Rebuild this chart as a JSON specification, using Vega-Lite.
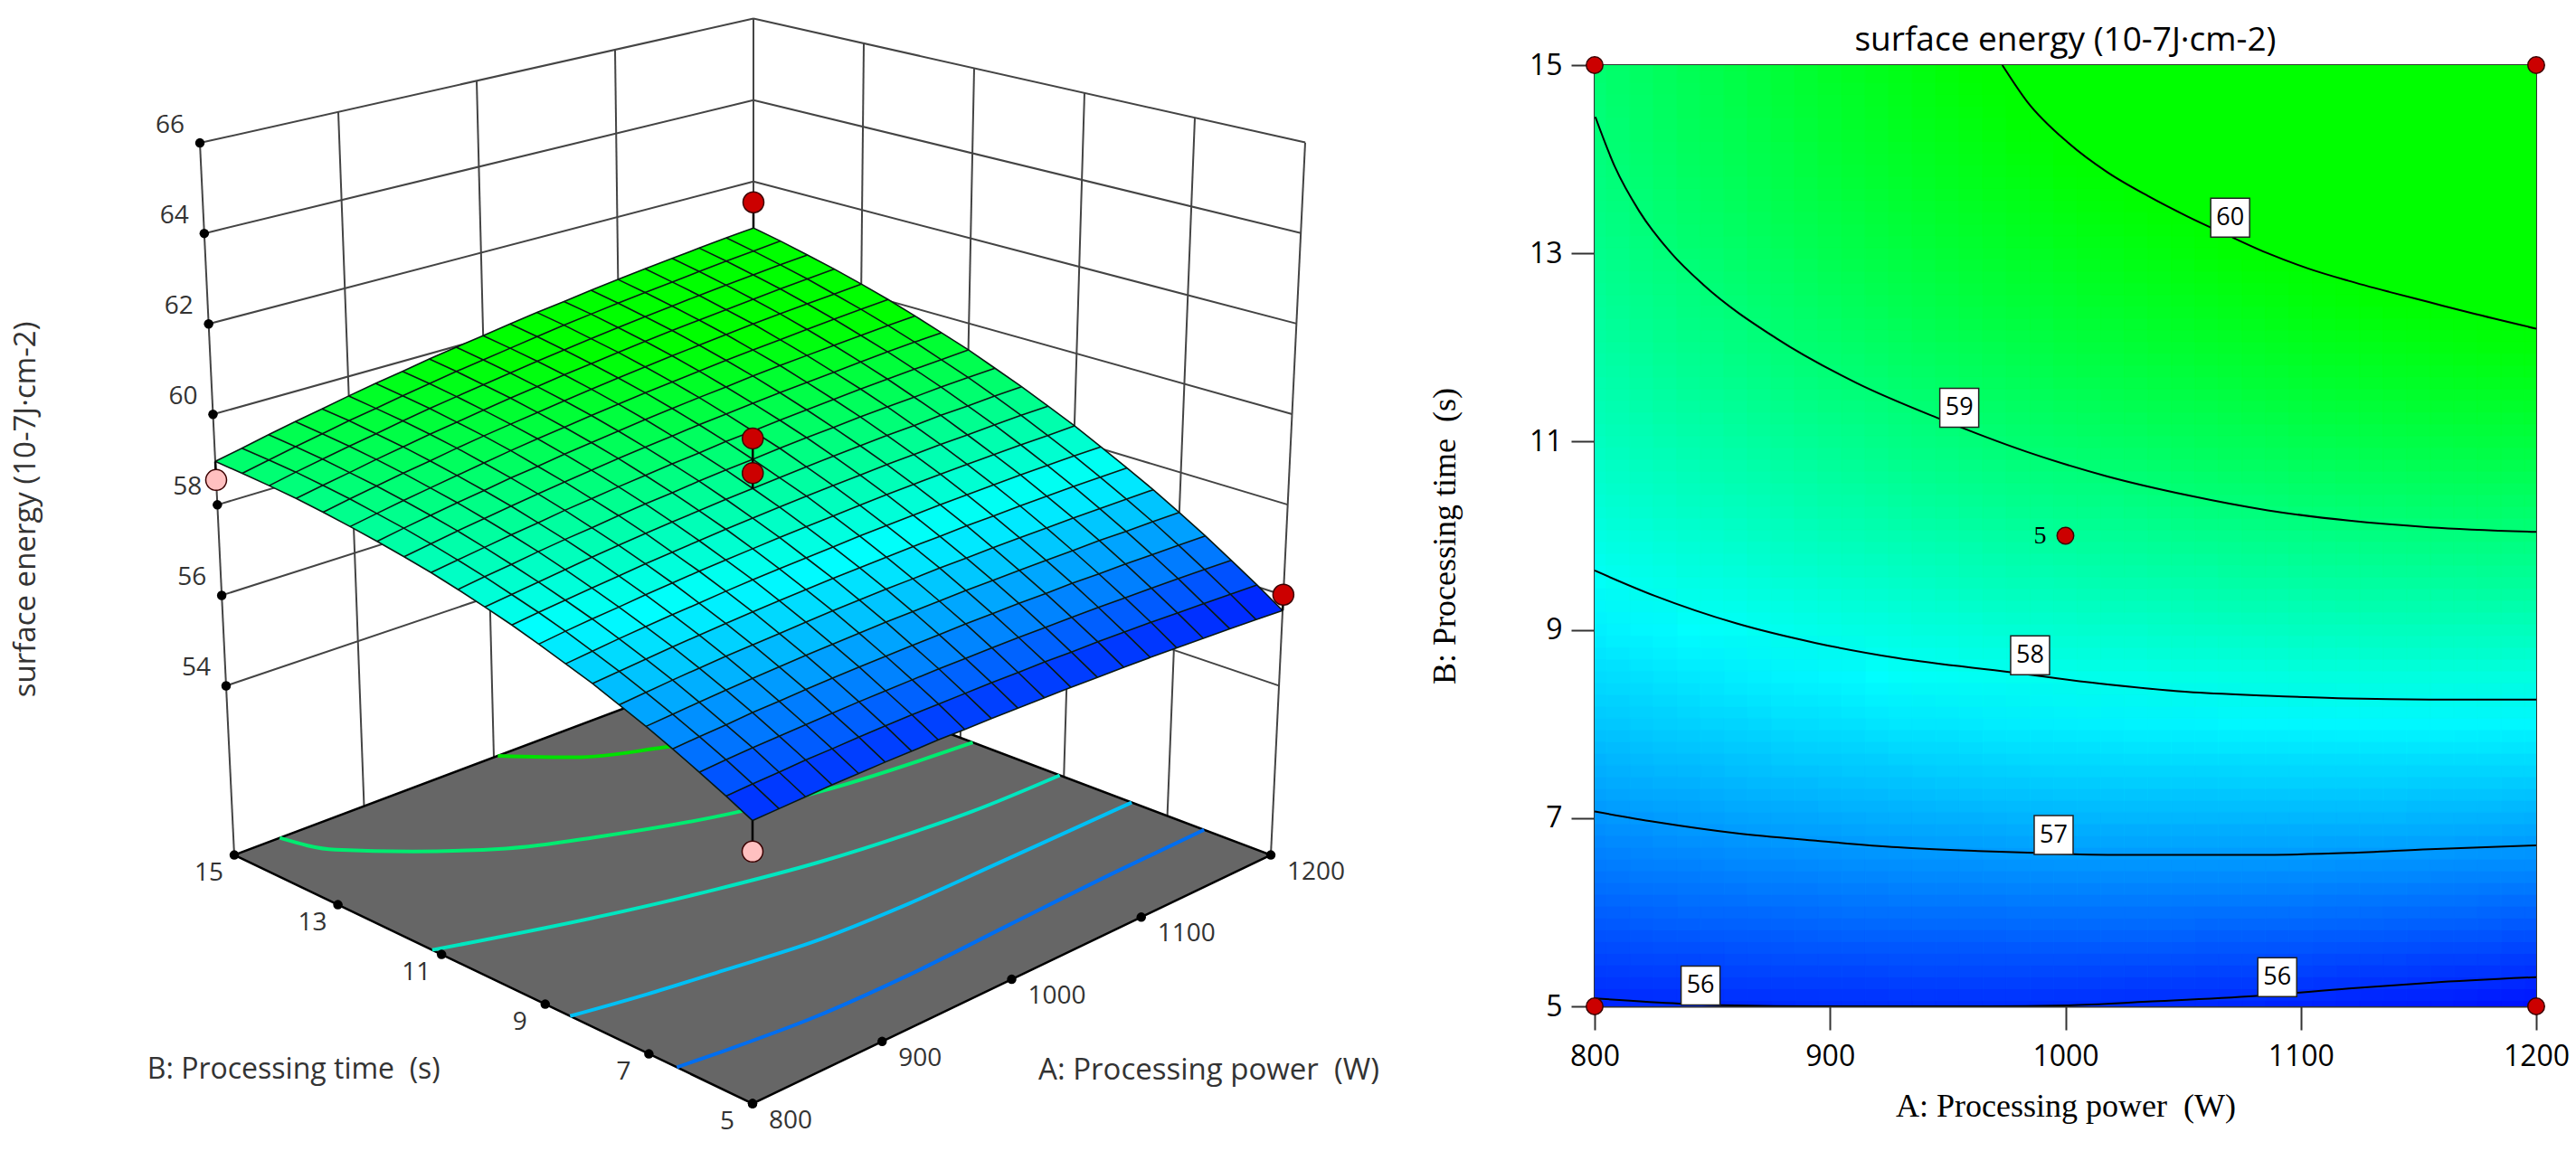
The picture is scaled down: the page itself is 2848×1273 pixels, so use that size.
{"$schema":"https://vega.github.io/schema/vega-lite/v6.json","padding":{"left":0,"top":16,"right":0,"bottom":0},"background":"white","spacing":0,"config":{"view":{"stroke":null},"concat":{"spacing":0}},
"datasets":{
"surface":[
{"A":800,"B":5,"z":55.94},{"A":820,"B":5,"z":55.96},{"A":840,"B":5,"z":55.98},{"A":860,"B":5,"z":56.0},{"A":880,"B":5,"z":56.01},{"A":900,"B":5,"z":56.02},{"A":920,"B":5,"z":56.02},{"A":940,"B":5,"z":56.03},{"A":960,"B":5,"z":56.02},{"A":980,"B":5,"z":56.02},{"A":1000,"B":5,"z":56.01},{"A":1020,"B":5,"z":56.0},{"A":1040,"B":5,"z":55.99},{"A":1060,"B":5,"z":55.97},{"A":1080,"B":5,"z":55.95},{"A":1100,"B":5,"z":55.93},{"A":1120,"B":5,"z":55.9},{"A":1140,"B":5,"z":55.87},{"A":1160,"B":5,"z":55.84},{"A":1180,"B":5,"z":55.8},{"A":1200,"B":5,"z":55.76},
{"A":800,"B":5.5,"z":56.21},{"A":820,"B":5.5,"z":56.24},{"A":840,"B":5.5,"z":56.26},{"A":860,"B":5.5,"z":56.29},{"A":880,"B":5.5,"z":56.3},{"A":900,"B":5.5,"z":56.32},{"A":920,"B":5.5,"z":56.33},{"A":940,"B":5.5,"z":56.34},{"A":960,"B":5.5,"z":56.34},{"A":980,"B":5.5,"z":56.34},{"A":1000,"B":5.5,"z":56.34},{"A":1020,"B":5.5,"z":56.33},{"A":1040,"B":5.5,"z":56.33},{"A":1060,"B":5.5,"z":56.31},{"A":1080,"B":5.5,"z":56.3},{"A":1100,"B":5.5,"z":56.28},{"A":1120,"B":5.5,"z":56.26},{"A":1140,"B":5.5,"z":56.23},{"A":1160,"B":5.5,"z":56.2},{"A":1180,"B":5.5,"z":56.17},{"A":1200,"B":5.5,"z":56.14},
{"A":800,"B":6,"z":56.47},{"A":820,"B":6,"z":56.51},{"A":840,"B":6,"z":56.54},{"A":860,"B":6,"z":56.56},{"A":880,"B":6,"z":56.58},{"A":900,"B":6,"z":56.6},{"A":920,"B":6,"z":56.62},{"A":940,"B":6,"z":56.63},{"A":960,"B":6,"z":56.64},{"A":980,"B":6,"z":56.65},{"A":1000,"B":6,"z":56.65},{"A":1020,"B":6,"z":56.65},{"A":1040,"B":6,"z":56.65},{"A":1060,"B":6,"z":56.64},{"A":1080,"B":6,"z":56.63},{"A":1100,"B":6,"z":56.62},{"A":1120,"B":6,"z":56.6},{"A":1140,"B":6,"z":56.58},{"A":1160,"B":6,"z":56.56},{"A":1180,"B":6,"z":56.53},{"A":1200,"B":6,"z":56.5},
{"A":800,"B":6.5,"z":56.72},{"A":820,"B":6.5,"z":56.76},{"A":840,"B":6.5,"z":56.79},{"A":860,"B":6.5,"z":56.83},{"A":880,"B":6.5,"z":56.85},{"A":900,"B":6.5,"z":56.88},{"A":920,"B":6.5,"z":56.9},{"A":940,"B":6.5,"z":56.92},{"A":960,"B":6.5,"z":56.93},{"A":980,"B":6.5,"z":56.94},{"A":1000,"B":6.5,"z":56.95},{"A":1020,"B":6.5,"z":56.96},{"A":1040,"B":6.5,"z":56.96},{"A":1060,"B":6.5,"z":56.96},{"A":1080,"B":6.5,"z":56.95},{"A":1100,"B":6.5,"z":56.95},{"A":1120,"B":6.5,"z":56.93},{"A":1140,"B":6.5,"z":56.92},{"A":1160,"B":6.5,"z":56.9},{"A":1180,"B":6.5,"z":56.88},{"A":1200,"B":6.5,"z":56.86},
{"A":800,"B":7,"z":56.96},{"A":820,"B":7,"z":57.0},{"A":840,"B":7,"z":57.04},{"A":860,"B":7,"z":57.08},{"A":880,"B":7,"z":57.11},{"A":900,"B":7,"z":57.14},{"A":920,"B":7,"z":57.17},{"A":940,"B":7,"z":57.19},{"A":960,"B":7,"z":57.21},{"A":980,"B":7,"z":57.23},{"A":1000,"B":7,"z":57.24},{"A":1020,"B":7,"z":57.25},{"A":1040,"B":7,"z":57.26},{"A":1060,"B":7,"z":57.26},{"A":1080,"B":7,"z":57.26},{"A":1100,"B":7,"z":57.26},{"A":1120,"B":7,"z":57.25},{"A":1140,"B":7,"z":57.25},{"A":1160,"B":7,"z":57.23},{"A":1180,"B":7,"z":57.22},{"A":1200,"B":7,"z":57.2},
{"A":800,"B":7.5,"z":57.18},{"A":820,"B":7.5,"z":57.23},{"A":840,"B":7.5,"z":57.28},{"A":860,"B":7.5,"z":57.32},{"A":880,"B":7.5,"z":57.36},{"A":900,"B":7.5,"z":57.39},{"A":920,"B":7.5,"z":57.42},{"A":940,"B":7.5,"z":57.45},{"A":960,"B":7.5,"z":57.48},{"A":980,"B":7.5,"z":57.5},{"A":1000,"B":7.5,"z":57.52},{"A":1020,"B":7.5,"z":57.53},{"A":1040,"B":7.5,"z":57.55},{"A":1060,"B":7.5,"z":57.55},{"A":1080,"B":7.5,"z":57.56},{"A":1100,"B":7.5,"z":57.56},{"A":1120,"B":7.5,"z":57.56},{"A":1140,"B":7.5,"z":57.56},{"A":1160,"B":7.5,"z":57.55},{"A":1180,"B":7.5,"z":57.54},{"A":1200,"B":7.5,"z":57.53},
{"A":800,"B":8,"z":57.4},{"A":820,"B":8,"z":57.45},{"A":840,"B":8,"z":57.5},{"A":860,"B":8,"z":57.55},{"A":880,"B":8,"z":57.59},{"A":900,"B":8,"z":57.63},{"A":920,"B":8,"z":57.67},{"A":940,"B":8,"z":57.7},{"A":960,"B":8,"z":57.73},{"A":980,"B":8,"z":57.76},{"A":1000,"B":8,"z":57.78},{"A":1020,"B":8,"z":57.8},{"A":1040,"B":8,"z":57.82},{"A":1060,"B":8,"z":57.83},{"A":1080,"B":8,"z":57.85},{"A":1100,"B":8,"z":57.85},{"A":1120,"B":8,"z":57.86},{"A":1140,"B":8,"z":57.86},{"A":1160,"B":8,"z":57.86},{"A":1180,"B":8,"z":57.85},{"A":1200,"B":8,"z":57.84},
{"A":800,"B":8.5,"z":57.59},{"A":820,"B":8.5,"z":57.65},{"A":840,"B":8.5,"z":57.71},{"A":860,"B":8.5,"z":57.76},{"A":880,"B":8.5,"z":57.81},{"A":900,"B":8.5,"z":57.85},{"A":920,"B":8.5,"z":57.9},{"A":940,"B":8.5,"z":57.94},{"A":960,"B":8.5,"z":57.97},{"A":980,"B":8.5,"z":58.0},{"A":1000,"B":8.5,"z":58.03},{"A":1020,"B":8.5,"z":58.06},{"A":1040,"B":8.5,"z":58.08},{"A":1060,"B":8.5,"z":58.1},{"A":1080,"B":8.5,"z":58.12},{"A":1100,"B":8.5,"z":58.13},{"A":1120,"B":8.5,"z":58.14},{"A":1140,"B":8.5,"z":58.15},{"A":1160,"B":8.5,"z":58.15},{"A":1180,"B":8.5,"z":58.15},{"A":1200,"B":8.5,"z":58.14},
{"A":800,"B":9,"z":57.78},{"A":820,"B":9,"z":57.85},{"A":840,"B":9,"z":57.91},{"A":860,"B":9,"z":57.96},{"A":880,"B":9,"z":58.02},{"A":900,"B":9,"z":58.07},{"A":920,"B":9,"z":58.12},{"A":940,"B":9,"z":58.16},{"A":960,"B":9,"z":58.2},{"A":980,"B":9,"z":58.24},{"A":1000,"B":9,"z":58.27},{"A":1020,"B":9,"z":58.3},{"A":1040,"B":9,"z":58.33},{"A":1060,"B":9,"z":58.36},{"A":1080,"B":9,"z":58.38},{"A":1100,"B":9,"z":58.4},{"A":1120,"B":9,"z":58.41},{"A":1140,"B":9,"z":58.42},{"A":1160,"B":9,"z":58.43},{"A":1180,"B":9,"z":58.43},{"A":1200,"B":9,"z":58.44},
{"A":800,"B":9.5,"z":57.96},{"A":820,"B":9.5,"z":58.03},{"A":840,"B":9.5,"z":58.09},{"A":860,"B":9.5,"z":58.15},{"A":880,"B":9.5,"z":58.21},{"A":900,"B":9.5,"z":58.27},{"A":920,"B":9.5,"z":58.32},{"A":940,"B":9.5,"z":58.37},{"A":960,"B":9.5,"z":58.42},{"A":980,"B":9.5,"z":58.46},{"A":1000,"B":9.5,"z":58.5},{"A":1020,"B":9.5,"z":58.54},{"A":1040,"B":9.5,"z":58.57},{"A":1060,"B":9.5,"z":58.6},{"A":1080,"B":9.5,"z":58.63},{"A":1100,"B":9.5,"z":58.65},{"A":1120,"B":9.5,"z":58.67},{"A":1140,"B":9.5,"z":58.68},{"A":1160,"B":9.5,"z":58.7},{"A":1180,"B":9.5,"z":58.71},{"A":1200,"B":9.5,"z":58.71},
{"A":800,"B":10,"z":58.12},{"A":820,"B":10,"z":58.19},{"A":840,"B":10,"z":58.26},{"A":860,"B":10,"z":58.33},{"A":880,"B":10,"z":58.4},{"A":900,"B":10,"z":58.46},{"A":920,"B":10,"z":58.52},{"A":940,"B":10,"z":58.57},{"A":960,"B":10,"z":58.62},{"A":980,"B":10,"z":58.67},{"A":1000,"B":10,"z":58.71},{"A":1020,"B":10,"z":58.75},{"A":1040,"B":10,"z":58.79},{"A":1060,"B":10,"z":58.83},{"A":1080,"B":10,"z":58.86},{"A":1100,"B":10,"z":58.89},{"A":1120,"B":10,"z":58.91},{"A":1140,"B":10,"z":58.94},{"A":1160,"B":10,"z":58.95},{"A":1180,"B":10,"z":58.97},{"A":1200,"B":10,"z":58.98},
{"A":800,"B":10.5,"z":58.27},{"A":820,"B":10.5,"z":58.35},{"A":840,"B":10.5,"z":58.42},{"A":860,"B":10.5,"z":58.5},{"A":880,"B":10.5,"z":58.57},{"A":900,"B":10.5,"z":58.63},{"A":920,"B":10.5,"z":58.7},{"A":940,"B":10.5,"z":58.76},{"A":960,"B":10.5,"z":58.81},{"A":980,"B":10.5,"z":58.87},{"A":1000,"B":10.5,"z":58.92},{"A":1020,"B":10.5,"z":58.96},{"A":1040,"B":10.5,"z":59.01},{"A":1060,"B":10.5,"z":59.05},{"A":1080,"B":10.5,"z":59.08},{"A":1100,"B":10.5,"z":59.12},{"A":1120,"B":10.5,"z":59.15},{"A":1140,"B":10.5,"z":59.17},{"A":1160,"B":10.5,"z":59.2},{"A":1180,"B":10.5,"z":59.22},{"A":1200,"B":10.5,"z":59.23},
{"A":800,"B":11,"z":58.41},{"A":820,"B":11,"z":58.49},{"A":840,"B":11,"z":58.57},{"A":860,"B":11,"z":58.65},{"A":880,"B":11,"z":58.72},{"A":900,"B":11,"z":58.8},{"A":920,"B":11,"z":58.86},{"A":940,"B":11,"z":58.93},{"A":960,"B":11,"z":58.99},{"A":980,"B":11,"z":59.05},{"A":1000,"B":11,"z":59.1},{"A":1020,"B":11,"z":59.16},{"A":1040,"B":11,"z":59.2},{"A":1060,"B":11,"z":59.25},{"A":1080,"B":11,"z":59.29},{"A":1100,"B":11,"z":59.33},{"A":1120,"B":11,"z":59.37},{"A":1140,"B":11,"z":59.4},{"A":1160,"B":11,"z":59.43},{"A":1180,"B":11,"z":59.45},{"A":1200,"B":11,"z":59.48},
{"A":800,"B":11.5,"z":58.53},{"A":820,"B":11.5,"z":58.62},{"A":840,"B":11.5,"z":58.71},{"A":860,"B":11.5,"z":58.79},{"A":880,"B":11.5,"z":58.87},{"A":900,"B":11.5,"z":58.95},{"A":920,"B":11.5,"z":59.02},{"A":940,"B":11.5,"z":59.09},{"A":960,"B":11.5,"z":59.16},{"A":980,"B":11.5,"z":59.22},{"A":1000,"B":11.5,"z":59.28},{"A":1020,"B":11.5,"z":59.34},{"A":1040,"B":11.5,"z":59.39},{"A":1060,"B":11.5,"z":59.44},{"A":1080,"B":11.5,"z":59.49},{"A":1100,"B":11.5,"z":59.53},{"A":1120,"B":11.5,"z":59.57},{"A":1140,"B":11.5,"z":59.61},{"A":1160,"B":11.5,"z":59.65},{"A":1180,"B":11.5,"z":59.68},{"A":1200,"B":11.5,"z":59.7},
{"A":800,"B":12,"z":58.64},{"A":820,"B":12,"z":58.74},{"A":840,"B":12,"z":58.83},{"A":860,"B":12,"z":58.92},{"A":880,"B":12,"z":59.0},{"A":900,"B":12,"z":59.09},{"A":920,"B":12,"z":59.16},{"A":940,"B":12,"z":59.24},{"A":960,"B":12,"z":59.31},{"A":980,"B":12,"z":59.38},{"A":1000,"B":12,"z":59.45},{"A":1020,"B":12,"z":59.51},{"A":1040,"B":12,"z":59.57},{"A":1060,"B":12,"z":59.62},{"A":1080,"B":12,"z":59.68},{"A":1100,"B":12,"z":59.73},{"A":1120,"B":12,"z":59.77},{"A":1140,"B":12,"z":59.81},{"A":1160,"B":12,"z":59.85},{"A":1180,"B":12,"z":59.89},{"A":1200,"B":12,"z":59.92},
{"A":800,"B":12.5,"z":58.74},{"A":820,"B":12.5,"z":58.84},{"A":840,"B":12.5,"z":58.94},{"A":860,"B":12.5,"z":59.03},{"A":880,"B":12.5,"z":59.12},{"A":900,"B":12.5,"z":59.21},{"A":920,"B":12.5,"z":59.3},{"A":940,"B":12.5,"z":59.38},{"A":960,"B":12.5,"z":59.45},{"A":980,"B":12.5,"z":59.53},{"A":1000,"B":12.5,"z":59.6},{"A":1020,"B":12.5,"z":59.67},{"A":1040,"B":12.5,"z":59.73},{"A":1060,"B":12.5,"z":59.79},{"A":1080,"B":12.5,"z":59.85},{"A":1100,"B":12.5,"z":59.9},{"A":1120,"B":12.5,"z":59.95},{"A":1140,"B":12.5,"z":60.0},{"A":1160,"B":12.5,"z":60.05},{"A":1180,"B":12.5,"z":60.09},{"A":1200,"B":12.5,"z":60.13},
{"A":800,"B":13,"z":58.83},{"A":820,"B":13,"z":58.94},{"A":840,"B":13,"z":59.04},{"A":860,"B":13,"z":59.14},{"A":880,"B":13,"z":59.23},{"A":900,"B":13,"z":59.33},{"A":920,"B":13,"z":59.42},{"A":940,"B":13,"z":59.5},{"A":960,"B":13,"z":59.58},{"A":980,"B":13,"z":59.66},{"A":1000,"B":13,"z":59.74},{"A":1020,"B":13,"z":59.81},{"A":1040,"B":13,"z":59.88},{"A":1060,"B":13,"z":59.95},{"A":1080,"B":13,"z":60.01},{"A":1100,"B":13,"z":60.07},{"A":1120,"B":13,"z":60.13},{"A":1140,"B":13,"z":60.18},{"A":1160,"B":13,"z":60.23},{"A":1180,"B":13,"z":60.27},{"A":1200,"B":13,"z":60.32},
{"A":800,"B":13.5,"z":58.91},{"A":820,"B":13.5,"z":59.02},{"A":840,"B":13.5,"z":59.12},{"A":860,"B":13.5,"z":59.23},{"A":880,"B":13.5,"z":59.33},{"A":900,"B":13.5,"z":59.43},{"A":920,"B":13.5,"z":59.52},{"A":940,"B":13.5,"z":59.61},{"A":960,"B":13.5,"z":59.7},{"A":980,"B":13.5,"z":59.78},{"A":1000,"B":13.5,"z":59.87},{"A":1020,"B":13.5,"z":59.94},{"A":1040,"B":13.5,"z":60.02},{"A":1060,"B":13.5,"z":60.09},{"A":1080,"B":13.5,"z":60.16},{"A":1100,"B":13.5,"z":60.22},{"A":1120,"B":13.5,"z":60.28},{"A":1140,"B":13.5,"z":60.34},{"A":1160,"B":13.5,"z":60.4},{"A":1180,"B":13.5,"z":60.45},{"A":1200,"B":13.5,"z":60.5},
{"A":800,"B":14,"z":58.97},{"A":820,"B":14,"z":59.09},{"A":840,"B":14,"z":59.2},{"A":860,"B":14,"z":59.31},{"A":880,"B":14,"z":59.41},{"A":900,"B":14,"z":59.52},{"A":920,"B":14,"z":59.62},{"A":940,"B":14,"z":59.71},{"A":960,"B":14,"z":59.8},{"A":980,"B":14,"z":59.89},{"A":1000,"B":14,"z":59.98},{"A":1020,"B":14,"z":60.06},{"A":1040,"B":14,"z":60.14},{"A":1060,"B":14,"z":60.22},{"A":1080,"B":14,"z":60.29},{"A":1100,"B":14,"z":60.36},{"A":1120,"B":14,"z":60.43},{"A":1140,"B":14,"z":60.49},{"A":1160,"B":14,"z":60.55},{"A":1180,"B":14,"z":60.61},{"A":1200,"B":14,"z":60.66},
{"A":800,"B":14.5,"z":59.02},{"A":820,"B":14.5,"z":59.14},{"A":840,"B":14.5,"z":59.26},{"A":860,"B":14.5,"z":59.37},{"A":880,"B":14.5,"z":59.49},{"A":900,"B":14.5,"z":59.59},{"A":920,"B":14.5,"z":59.7},{"A":940,"B":14.5,"z":59.8},{"A":960,"B":14.5,"z":59.9},{"A":980,"B":14.5,"z":59.99},{"A":1000,"B":14.5,"z":60.08},{"A":1020,"B":14.5,"z":60.17},{"A":1040,"B":14.5,"z":60.26},{"A":1060,"B":14.5,"z":60.34},{"A":1080,"B":14.5,"z":60.42},{"A":1100,"B":14.5,"z":60.49},{"A":1120,"B":14.5,"z":60.56},{"A":1140,"B":14.5,"z":60.63},{"A":1160,"B":14.5,"z":60.7},{"A":1180,"B":14.5,"z":60.76},{"A":1200,"B":14.5,"z":60.82},
{"A":800,"B":15,"z":59.06},{"A":820,"B":15,"z":59.18},{"A":840,"B":15,"z":59.31},{"A":860,"B":15,"z":59.43},{"A":880,"B":15,"z":59.54},{"A":900,"B":15,"z":59.66},{"A":920,"B":15,"z":59.77},{"A":940,"B":15,"z":59.87},{"A":960,"B":15,"z":59.98},{"A":980,"B":15,"z":60.08},{"A":1000,"B":15,"z":60.17},{"A":1020,"B":15,"z":60.27},{"A":1040,"B":15,"z":60.36},{"A":1060,"B":15,"z":60.44},{"A":1080,"B":15,"z":60.53},{"A":1100,"B":15,"z":60.61},{"A":1120,"B":15,"z":60.69},{"A":1140,"B":15,"z":60.76},{"A":1160,"B":15,"z":60.83},{"A":1180,"B":15,"z":60.9},{"A":1200,"B":15,"z":60.96}
],
"scene":[
{"k":"w","id":1,"A":800,"B":15,"z":54},{"k":"w","id":1,"A":1200,"B":15,"z":54},{"k":"w","id":2,"A":800,"B":15,"z":56},{"k":"w","id":2,"A":1200,"B":15,"z":56},{"k":"w","id":3,"A":800,"B":15,"z":58},{"k":"w","id":3,"A":1200,"B":15,"z":58},{"k":"w","id":4,"A":800,"B":15,"z":60},{"k":"w","id":4,"A":1200,"B":15,"z":60},{"k":"w","id":5,"A":800,"B":15,"z":62},{"k":"w","id":5,"A":1200,"B":15,"z":62},{"k":"w","id":6,"A":800,"B":15,"z":64},{"k":"w","id":6,"A":1200,"B":15,"z":64},{"k":"w","id":7,"A":800,"B":15,"z":66},{"k":"w","id":7,"A":1200,"B":15,"z":66},
{"k":"w","id":8,"A":1200,"B":15,"z":54},{"k":"w","id":8,"A":1200,"B":5,"z":54},{"k":"w","id":9,"A":1200,"B":15,"z":56},{"k":"w","id":9,"A":1200,"B":5,"z":56},{"k":"w","id":10,"A":1200,"B":15,"z":58},{"k":"w","id":10,"A":1200,"B":5,"z":58},{"k":"w","id":11,"A":1200,"B":15,"z":60},{"k":"w","id":11,"A":1200,"B":5,"z":60},{"k":"w","id":12,"A":1200,"B":15,"z":62},{"k":"w","id":12,"A":1200,"B":5,"z":62},{"k":"w","id":13,"A":1200,"B":15,"z":64},{"k":"w","id":13,"A":1200,"B":5,"z":64},{"k":"w","id":14,"A":1200,"B":15,"z":66},{"k":"w","id":14,"A":1200,"B":5,"z":66},
{"k":"w","id":15,"A":800,"B":15,"z":50.26},{"k":"w","id":15,"A":800,"B":15,"z":66},{"k":"w","id":16,"A":900,"B":15,"z":50.26},{"k":"w","id":16,"A":900,"B":15,"z":66},{"k":"w","id":17,"A":1000,"B":15,"z":50.26},{"k":"w","id":17,"A":1000,"B":15,"z":66},{"k":"w","id":18,"A":1100,"B":15,"z":50.26},{"k":"w","id":18,"A":1100,"B":15,"z":66},{"k":"w","id":19,"A":1200,"B":15,"z":50.26},{"k":"w","id":19,"A":1200,"B":15,"z":66},
{"k":"w","id":20,"A":1200,"B":13,"z":50.26},{"k":"w","id":20,"A":1200,"B":13,"z":66},{"k":"w","id":21,"A":1200,"B":11,"z":50.26},{"k":"w","id":21,"A":1200,"B":11,"z":66},{"k":"w","id":22,"A":1200,"B":9,"z":50.26},{"k":"w","id":22,"A":1200,"B":9,"z":66},{"k":"w","id":23,"A":1200,"B":7,"z":50.26},{"k":"w","id":23,"A":1200,"B":7,"z":66},{"k":"w","id":24,"A":1200,"B":5,"z":50.26},{"k":"w","id":24,"A":1200,"B":5,"z":66},
{"k":"f","o":0,"A":800,"B":5,"z":50.26},{"k":"f","o":1,"A":1200,"B":5,"z":50.26},{"k":"f","o":2,"A":1200,"B":15,"z":50.26},{"k":"f","o":3,"A":800,"B":15,"z":50.26},{"k":"f","o":4,"A":800,"B":5,"z":50.26},
{"k":"c","level":"56","A":800,"B":6.46,"z":50.26},{"k":"c","level":"56","A":831,"B":6.35,"z":50.26},{"k":"c","level":"56","A":895,"B":6.17,"z":50.26},{"k":"c","level":"56","A":965,"B":6.13,"z":50.26},{"k":"c","level":"56","A":1047,"B":6.2,"z":50.26},{"k":"c","level":"56","A":1132,"B":6.27,"z":50.26},{"k":"c","level":"56","A":1200,"B":6.29,"z":50.26},
{"k":"c","level":"57","A":800,"B":8.52,"z":50.26},{"k":"c","level":"57","A":849,"B":8.26,"z":50.26},{"k":"c","level":"57","A":899,"B":8.04,"z":50.26},{"k":"c","level":"57","A":960,"B":7.78,"z":50.26},{"k":"c","level":"57","A":1027,"B":7.68,"z":50.26},{"k":"c","level":"57","A":1099,"B":7.68,"z":50.26},{"k":"c","level":"57","A":1200,"B":7.69,"z":50.26},
{"k":"c","level":"58","A":800,"B":11.18,"z":50.26},{"k":"c","level":"58","A":897,"B":10.38,"z":50.26},{"k":"c","level":"58","A":967,"B":9.88,"z":50.26},{"k":"c","level":"58","A":1030,"B":9.5,"z":50.26},{"k":"c","level":"58","A":1092,"B":9.25,"z":50.26},{"k":"c","level":"58","A":1135,"B":9.13,"z":50.26},{"k":"c","level":"58","A":1200,"B":9.08,"z":50.26},
{"k":"c","level":"59","A":835,"B":15,"z":50.26},{"k":"c","level":"59","A":848,"B":14.25,"z":50.26},{"k":"c","level":"59","A":879,"B":13.53,"z":50.26},{"k":"c","level":"59","A":920,"B":12.76,"z":50.26},{"k":"c","level":"59","A":968,"B":12.18,"z":50.26},{"k":"c","level":"59","A":1045,"B":11.44,"z":50.26},{"k":"c","level":"59","A":1103,"B":11.08,"z":50.26},{"k":"c","level":"59","A":1200,"B":10.76,"z":50.26},
{"k":"c","level":"60","A":1003,"B":15,"z":50.26},{"k":"c","level":"60","A":1033,"B":14.26,"z":50.26},{"k":"c","level":"60","A":1078,"B":13.67,"z":50.26},{"k":"c","level":"60","A":1140,"B":13,"z":50.26},{"k":"c","level":"60","A":1200,"B":12.6,"z":50.26},
{"k":"s","id":"a","A":1200,"B":15,"z":60.86},{"k":"s","id":"a","A":1200,"B":15,"z":61.49},{"k":"s","id":"b","A":800,"B":5,"z":55.84},{"k":"s","id":"b","A":800,"B":5,"z":55.23},{"k":"s","id":"c","A":800,"B":15,"z":58.96},{"k":"s","id":"c","A":800,"B":15,"z":58.55},{"k":"s","id":"d","A":1200,"B":5,"z":55.66},{"k":"s","id":"d","A":1200,"B":5,"z":56.01},{"k":"s","id":"e","A":1000,"B":10,"z":58.61},{"k":"s","id":"e","A":1000,"B":10,"z":59.71},
{"k":"d","pos":"above","A":1200,"B":15,"z":61.49},{"k":"d","pos":"above","A":1000,"B":10,"z":59.71},{"k":"d","pos":"above","A":1000,"B":10,"z":58.95},{"k":"d","pos":"below","A":800,"B":15,"z":58.55},{"k":"d","pos":"below","A":800,"B":5,"z":55.23},{"k":"d","pos":"above","A":1200,"B":5,"z":56.01},
{"k":"tz","t":"54","A":800,"B":15,"z":54},{"k":"tz","t":"56","A":800,"B":15,"z":56},{"k":"tz","t":"58","A":800,"B":15,"z":58},{"k":"tz","t":"60","A":800,"B":15,"z":60},{"k":"tz","t":"62","A":800,"B":15,"z":62},{"k":"tz","t":"64","A":800,"B":15,"z":64},{"k":"tz","t":"66","A":800,"B":15,"z":66},
{"k":"tb","t":"5","A":800,"B":5,"z":50.26},{"k":"tb","t":"7","A":800,"B":7,"z":50.26},{"k":"tb","t":"9","A":800,"B":9,"z":50.26},{"k":"tb","t":"11","A":800,"B":11,"z":50.26},{"k":"tb","t":"13","A":800,"B":13,"z":50.26},{"k":"tb","t":"15","A":800,"B":15,"z":50.26},
{"k":"ta","t":"800","A":800,"B":5,"z":50.26},{"k":"ta","t":"900","A":900,"B":5,"z":50.26},{"k":"ta","t":"1000","A":1000,"B":5,"z":50.26},{"k":"ta","t":"1100","A":1100,"B":5,"z":50.26},{"k":"ta","t":"1200","A":1200,"B":5,"z":50.26},
{"k":"t1","t":"surface energy (10-7J·cm-2)","A":800,"B":15,"z":57.9},{"k":"t2","t":"B: Processing time \u00a0(s)","A":800,"B":9,"z":50.26},{"k":"t3","t":"A: Processing power \u00a0(W)","A":1000,"B":5,"z":50.26}
],
"contours":[
{"level":60,"A":973.2,"B":15},{"level":60,"A":983.8,"B":14.61},{"level":60,"A":1000.9,"B":14.18},{"level":60,"A":1017.9,"B":13.86},{"level":60,"A":1035,"B":13.61},{"level":60,"A":1052,"B":13.39},{"level":60,"A":1070,"B":13.18},{"level":60,"A":1086,"B":13.0},{"level":60,"A":1103,"B":12.84},{"level":60,"A":1120,"B":12.71},{"level":60,"A":1137.6,"B":12.59},{"level":60,"A":1154.7,"B":12.48},{"level":60,"A":1171.8,"B":12.37},{"level":60,"A":1200,"B":12.2},
{"level":59,"A":800.3,"B":14.45},{"level":59,"A":808.6,"B":13.92},{"level":59,"A":818.9,"B":13.45},{"level":59,"A":832.6,"B":13.0},{"level":59,"A":846,"B":12.67},{"level":59,"A":877,"B":12.1},{"level":59,"A":911.5,"B":11.62},{"level":59,"A":945.8,"B":11.25},{"level":59,"A":983.8,"B":10.89},{"level":59,"A":1017.9,"B":10.63},{"level":59,"A":1052,"B":10.43},{"level":59,"A":1086,"B":10.27},{"level":59,"A":1120.5,"B":10.16},{"level":59,"A":1154.7,"B":10.09},{"level":59,"A":1200,"B":10.04},
{"level":58,"A":800,"B":9.63},{"level":58,"A":825.7,"B":9.36},{"level":58,"A":860,"B":9.07},{"level":58,"A":894,"B":8.86},{"level":58,"A":928.6,"B":8.7},{"level":58,"A":976.7,"B":8.55},{"level":58,"A":1018,"B":8.42},{"level":58,"A":1052,"B":8.34},{"level":58,"A":1086,"B":8.3},{"level":58,"A":1120.5,"B":8.27},{"level":58,"A":1154.7,"B":8.26},{"level":58,"A":1200,"B":8.26},
{"level":57,"A":800,"B":7.07},{"level":57,"A":825.7,"B":6.96},{"level":57,"A":860,"B":6.84},{"level":57,"A":894,"B":6.76},{"level":57,"A":928.6,"B":6.69},{"level":57,"A":962.9,"B":6.65},{"level":57,"A":986.9,"B":6.63},{"level":57,"A":1018,"B":6.61},{"level":57,"A":1052,"B":6.61},{"level":57,"A":1086,"B":6.61},{"level":57,"A":1120.5,"B":6.63},{"level":57,"A":1154.7,"B":6.67},{"level":57,"A":1200,"B":6.71},
{"level":56,"A":800,"B":5.085},{"level":56,"A":836,"B":5.03},{"level":56,"A":860,"B":5.01},{"level":56,"A":894,"B":5.0},{"level":56,"A":966,"B":5},{"level":56,"A":1000,"B":5.01},{"level":56,"A":1035,"B":5.05},{"level":56,"A":1081,"B":5.11},{"level":56,"A":1120.5,"B":5.19},{"level":56,"A":1154.7,"B":5.25},{"level":56,"A":1200,"B":5.31}
],
"labels":[{"A":1070,"B":13.38,"t":"60"},{"A":954.9,"B":11.36,"t":"59"},{"A":985,"B":8.73,"t":"58"},{"A":995,"B":6.82,"t":"57"},{"A":1090,"B":5.31,"t":"56"},{"A":845,"B":5.22,"t":"56"}],
"runs":[{"A":800,"B":5},{"A":800,"B":15},{"A":1200,"B":5},{"A":1200,"B":15},{"A":1000,"B":10,"n":"5"}]
},
"hconcat":[
{"width":1578,"height":1201.6,"layer":[
{"data":{"name":"scene"},"transform":[{"calculate":"(datum.A-800)/400","as":"u"},{"calculate":"(datum.B-5)/10","as":"v"},{"calculate":"(datum.z-50.26)/15.74","as":"h"},{"calculate":"(1-datum.u)*(1-datum.v)*832+datum.u*(1-datum.v)*(1405+38*datum.h)+(1-datum.u)*datum.v*(259-38*datum.h)+datum.u*datum.v*833","as":"px"},{"calculate":"(1-datum.u)*(1-datum.v)*(1220-883*datum.h)+datum.u*(1-datum.v)*(945-788*datum.h)+(1-datum.u)*datum.v*(945-787.5*datum.h)+datum.u*datum.v*(729-709*datum.h)","as":"py"}],
"encoding":{"x":{"field":"px","type":"quantitative","scale":{"domain":[0,1578],"nice":false,"zero":false},"axis":null},"y":{"field":"py","type":"quantitative","scale":{"domain":[1273,71.4],"nice":false,"zero":false},"axis":null}},
"layer":[
{"transform":[{"filter":"datum.k=='w'"}],"mark":{"type":"line","stroke":"#444444","strokeWidth":2},"encoding":{"detail":{"field":"id"}}},
{"transform":[{"filter":"datum.k=='f'"}],"mark":{"type":"line","fill":"#666666","stroke":"#000000","strokeWidth":2.5},"encoding":{"order":{"field":"o","type":"quantitative"}}},
{"transform":[{"filter":"datum.k=='c'"}],"mark":{"type":"line","strokeWidth":4,"interpolate":"monotone"},"encoding":{"stroke":{"field":"level","type":"nominal","scale":{"domain":["56","57","58","59","60"],"range":["#006ef0","#00c0f5","#00e6c0","#00eb70","#00e000"]},"legend":null}}}
]},
{"data":{"name":"surface"},"transform":[{"calculate":"(datum.A-800)/400","as":"u"},{"calculate":"(datum.B-5)/10","as":"v"},{"calculate":"(datum.z-50.36)/15.74","as":"h"},{"calculate":"(1-datum.u)*(1-datum.v)*832+datum.u*(1-datum.v)*(1405+38*datum.h)+(1-datum.u)*datum.v*(259-38*datum.h)+datum.u*datum.v*833","as":"px"},{"calculate":"(1-datum.u)*(1-datum.v)*(1220-883*datum.h)+datum.u*(1-datum.v)*(945-788*datum.h)+(1-datum.u)*datum.v*(945-787.5*datum.h)+datum.u*datum.v*(729-709*datum.h)","as":"py"}],
"encoding":{"x":{"field":"px","type":"quantitative","scale":{"domain":[0,1578],"nice":false,"zero":false},"axis":null},"y":{"field":"py","type":"quantitative","scale":{"domain":[1273,71.4],"nice":false,"zero":false},"axis":null}},
"layer":[
{"transform":[{"calculate":"(datum.A-800)/20","as":"i"},{"calculate":"(datum.B-5)/0.5","as":"j"},{"calculate":"[datum.i,datum.i-1,datum.i-1,datum.i]","as":"qi"},{"calculate":"[datum.j,datum.j,datum.j-1,datum.j-1]","as":"qj"},{"calculate":"[0,1,2,3]","as":"o"},{"flatten":["qi","qj","o"]},{"filter":"datum.qi>=0&&datum.qi<20&&datum.qj>=0&&datum.qj<20"},{"calculate":"datum.qi+100*datum.qj","as":"q"},{"joinaggregate":[{"op":"mean","field":"z","as":"zm"}],"groupby":["q"]}],
"mark":{"type":"line","strokeOpacity":0},"encoding":{"detail":{"field":"q"},"order":{"field":"o","type":"quantitative"},"fill":{"field":"zm","type":"quantitative","scale":{"domain":[55.6,57.9,60],"range":["#0000ff","#00ffff","#00ff00"],"interpolate":"rgb","clamp":true},"legend":null}}},
{"mark":{"type":"line","stroke":"#0a1a14","strokeWidth":1.6},"encoding":{"detail":{"field":"A"},"order":{"field":"B","type":"quantitative"}}},
{"mark":{"type":"line","stroke":"#0a1a14","strokeWidth":1.6},"encoding":{"detail":{"field":"B"},"order":{"field":"A","type":"quantitative"}}}
]},
{"data":{"name":"scene"},"transform":[{"calculate":"(datum.A-800)/400","as":"u"},{"calculate":"(datum.B-5)/10","as":"v"},{"calculate":"(datum.z-50.26)/15.74","as":"h"},{"calculate":"(1-datum.u)*(1-datum.v)*832+datum.u*(1-datum.v)*(1405+38*datum.h)+(1-datum.u)*datum.v*(259-38*datum.h)+datum.u*datum.v*833","as":"px"},{"calculate":"(1-datum.u)*(1-datum.v)*(1220-883*datum.h)+datum.u*(1-datum.v)*(945-788*datum.h)+(1-datum.u)*datum.v*(945-787.5*datum.h)+datum.u*datum.v*(729-709*datum.h)","as":"py"}],
"encoding":{"x":{"field":"px","type":"quantitative","scale":{"domain":[0,1578],"nice":false,"zero":false},"axis":null},"y":{"field":"py","type":"quantitative","scale":{"domain":[1273,71.4],"nice":false,"zero":false},"axis":null}},
"layer":[
{"transform":[{"filter":"datum.k=='s'"}],"mark":{"type":"line","stroke":"#000000","strokeWidth":2.5},"encoding":{"detail":{"field":"id"}}},
{"transform":[{"filter":"datum.k=='tz'||datum.k=='tb'||datum.k=='ta'"}],"mark":{"type":"point","shape":"circle","filled":true,"size":110,"color":"#000000","opacity":1}},
{"transform":[{"filter":"datum.k=='d'"}],"mark":{"type":"point","shape":"circle","filled":true,"size":530,"opacity":1,"stroke":"#3a0000","strokeWidth":1.5},"encoding":{"fill":{"field":"pos","type":"nominal","scale":{"domain":["above","below"],"range":["#cc0000","#ffc0c0"]},"legend":null}}},
{"transform":[{"filter":"datum.k=='tz'"}],"mark":{"type":"text","font":"Open Sans","fontSize":28,"color":"#333333","dx":-33,"dy":-19,"align":"center","baseline":"middle"},"encoding":{"text":{"field":"t"}}},
{"transform":[{"filter":"datum.k=='tb'"}],"mark":{"type":"text","font":"Open Sans","fontSize":28,"color":"#333333","dx":-28,"dy":20,"align":"center","baseline":"middle"},"encoding":{"text":{"field":"t"}}},
{"transform":[{"filter":"datum.k=='ta'"}],"mark":{"type":"text","font":"Open Sans","fontSize":28,"color":"#333333","dx":18,"dy":19,"align":"left","baseline":"middle"},"encoding":{"text":{"field":"t"}}},
{"transform":[{"filter":"datum.k=='t1'"}],"mark":{"type":"text","font":"Open Sans","fontSize":33,"color":"#333333","dy":-212,"angle":270,"align":"center","baseline":"middle"},"encoding":{"text":{"field":"t"}}},
{"transform":[{"filter":"datum.k=='t2'"}],"mark":{"type":"text","font":"Open Sans","fontSize":32,"color":"#333333","dx":-278,"dy":72,"align":"center","baseline":"middle"},"encoding":{"text":{"field":"t"}}},
{"transform":[{"filter":"datum.k=='t3'"}],"mark":{"type":"text","font":"Open Sans","fontSize":33,"color":"#333333","dx":218,"dy":101,"align":"center","baseline":"middle"},"encoding":{"text":{"field":"t"}}}
]}
]},
{"width":1041,"height":1041,"view":{"stroke":"#333333","strokeWidth":2},
"title":{"text":"surface energy (10-7J·cm-2)","font":"Open Sans","fontSize":37,"fontWeight":"normal","color":"#000000","offset":-8},
"encoding":{
"x":{"field":"A","type":"quantitative","scale":{"domain":[800,1200],"nice":false,"zero":false},"axis":{"values":[800,900,1000,1100,1200],"format":"d","title":"A: Processing power \u00a0(W)","titleFont":"Liberation Serif","titleFontSize":36,"titleFontWeight":"normal","titleColor":"#000000","titlePadding":22,"labelFont":"Open Sans","labelFontSize":32,"labelColor":"#000000","labelPadding":14,"labelFlush":false,"labelOverlap":false,"tickSize":26,"tickWidth":2,"tickColor":"#333333","domainColor":"#333333","domainWidth":2,"grid":false}},
"y":{"field":"B","type":"quantitative","scale":{"domain":[5,15],"nice":false,"zero":false},"axis":{"values":[5,7,9,11,13,15],"format":"d","title":"B: Processing time \u00a0(s)","titleFont":"Liberation Serif","titleFontSize":36,"titleFontWeight":"normal","titleColor":"#000000","titlePadding":74,"labelFont":"Open Sans","labelFontSize":32,"labelColor":"#000000","labelPadding":10,"labelFlush":false,"labelOverlap":false,"tickSize":26,"tickWidth":2,"tickColor":"#333333","domainColor":"#333333","domainWidth":2,"grid":false}}},
"layer":[
{"data":{"name":"surface"},"mark":{"type":"rect","width":53,"height":53,"clip":true,"xOffset":-13,"yOffset":-19.5},"encoding":{"color":{"field":"z","type":"quantitative","scale":{"domain":[55.6,57.9,60],"range":["#0000ff","#00ffff","#00ff00"],"interpolate":"rgb","clamp":true},"legend":null}}},
{"data":{"name":"surface"},"mark":{"type":"rect","width":53,"height":53,"clip":true,"xOffset":13,"yOffset":-19.5,"opacity":0.5},"encoding":{"color":{"field":"z","type":"quantitative","legend":null}}},
{"data":{"name":"surface"},"mark":{"type":"rect","width":53,"height":53,"clip":true,"xOffset":-13,"yOffset":-6.5,"opacity":0.3333},"encoding":{"color":{"field":"z","type":"quantitative","legend":null}}},
{"data":{"name":"surface"},"mark":{"type":"rect","width":53,"height":53,"clip":true,"xOffset":13,"yOffset":-6.5,"opacity":0.25},"encoding":{"color":{"field":"z","type":"quantitative","legend":null}}},
{"data":{"name":"surface"},"mark":{"type":"rect","width":53,"height":53,"clip":true,"xOffset":-13,"yOffset":6.5,"opacity":0.2},"encoding":{"color":{"field":"z","type":"quantitative","legend":null}}},
{"data":{"name":"surface"},"mark":{"type":"rect","width":53,"height":53,"clip":true,"xOffset":13,"yOffset":6.5,"opacity":0.1667},"encoding":{"color":{"field":"z","type":"quantitative","legend":null}}},
{"data":{"name":"surface"},"mark":{"type":"rect","width":53,"height":53,"clip":true,"xOffset":-13,"yOffset":19.5,"opacity":0.1429},"encoding":{"color":{"field":"z","type":"quantitative","legend":null}}},
{"data":{"name":"surface"},"mark":{"type":"rect","width":53,"height":53,"clip":true,"xOffset":13,"yOffset":19.5,"opacity":0.125},"encoding":{"color":{"field":"z","type":"quantitative","legend":null}}},
{"data":{"name":"contours"},"mark":{"type":"line","stroke":"#000000","strokeWidth":2,"interpolate":"monotone","clip":true},"encoding":{"detail":{"field":"level"}}},
{"data":{"name":"labels"},"mark":{"type":"point","shape":"square","filled":true,"size":1850,"fill":"#ffffff","stroke":"#222222","strokeWidth":1.5,"opacity":1}},
{"data":{"name":"labels"},"mark":{"type":"text","font":"Open Sans","fontSize":27,"color":"#000000","align":"center","baseline":"middle"},"encoding":{"text":{"field":"t"}}},
{"data":{"name":"runs"},"mark":{"type":"point","shape":"circle","filled":true,"size":340,"fill":"#cc0000","stroke":"#3a0000","strokeWidth":1.5,"opacity":1,"clip":false}},
{"data":{"name":"runs"},"transform":[{"filter":"datum.n"}],"mark":{"type":"text","font":"Liberation Serif","fontSize":28,"color":"#000000","dx":-28,"align":"center","baseline":"middle"},"encoding":{"text":{"field":"n"}}}
]}
]}
